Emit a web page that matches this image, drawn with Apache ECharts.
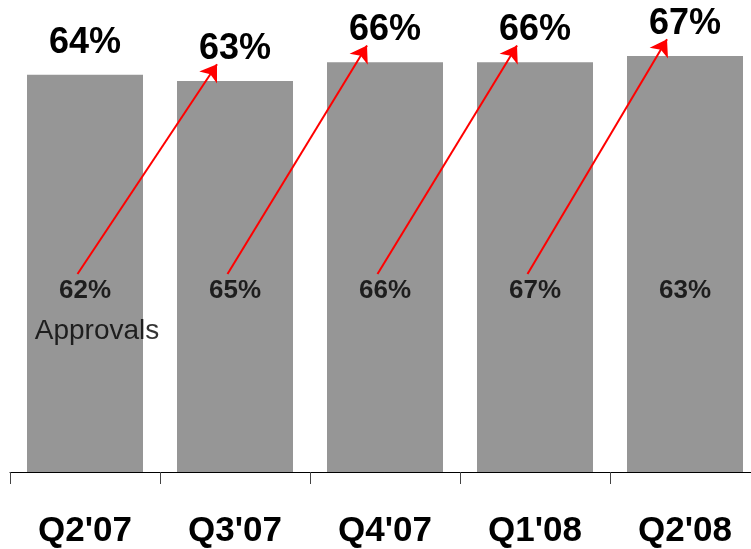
<!DOCTYPE html>
<html>
<head>
<meta charset="utf-8">
<script src="https://cdn.jsdelivr.net/npm/echarts@6/dist/echarts.min.js"></script>
<style>
  html, body { margin: 0; padding: 0; background: #ffffff; overflow: hidden; }
  #chart { width: 760px; height: 549px; }
</style>
</head>
<body>
<div id="chart"></div>
<script>
// Quarterly rates: bar height = headline rate, inner figure = approvals rate
const quarters = ["Q2'07", "Q3'07", "Q4'07", "Q1'08", "Q2'08"];
const headlineRates = [64, 63, 66, 66, 67];
const approvalRates = [62, 65, 66, 67, 63];
const approvalsCaption = 'Approvals';

const FONT = '"Liberation Sans", Arial, Helvetica, sans-serif';
const INNER_LEVEL = 29.2;     // value level where approval figures sit
const ARROW_START = 31.9;     // arrows leave just above the approval figure
const ARROW_RISE = 2.7;       // arrow tips stop just under the next headline

// Arrows run from each quarter's approvals figure to the next quarter's headline
const arrows = [];
for (let i = 0; i < quarters.length - 1; i++) {
  arrows.push({
    coords: [
      [i + 0.45, ARROW_START],
      [i + 1 + 0.38, headlineRates[i + 1] + ARROW_RISE]
    ]
  });
}

const chart = echarts.init(document.getElementById('chart'), null, { renderer: 'canvas' });
chart.setOption({
  animation: false,
  backgroundColor: '#ffffff',
  grid: { left: 10, top: 37.5, right: 0, bottom: 75, containLabel: false },
  xAxis: [
    {
      type: 'category',
      data: quarters,
      axisLine: { show: true, lineStyle: { color: '#000000', width: 1 } },
      axisTick: { show: true, length: 12, lineStyle: { color: '#444444', width: 1 } },
      axisLabel: {
        margin: 42,
        color: '#000000',
        fontFamily: FONT,
        fontWeight: 'bold',
        fontSize: 35
      },
      splitLine: { show: false }
    },
    {
      type: 'value',
      min: 0,
      max: quarters.length,
      show: false
    }
  ],
  yAxis: { type: 'value', min: 0, max: 70, show: false, splitLine: { show: false } },
  series: [
    {
      type: 'bar',
      data: headlineRates,
      barWidth: 116,
      itemStyle: { color: '#969696' },
      label: {
        show: true,
        position: 'top',
        distance: 14,
        formatter: '{c}%',
        color: '#000000',
        fontFamily: FONT,
        fontWeight: 'bold',
        fontSize: 36
      },
      z: 2
    },
    {
      type: 'scatter',
      data: approvalRates.map(v => ({ value: INNER_LEVEL, rate: v })),
      symbolSize: 0,
      label: {
        show: true,
        position: 'inside',
        formatter: p => p.data.rate + '%',
        color: '#000000',
        fontFamily: FONT,
        fontWeight: 'bold',
        fontSize: 26
      },
      z: 5
    },
    {
      type: 'scatter',
      data: [[quarters[0], 22.6]],
      symbolSize: 0,
      label: {
        show: true,
        position: 'inside',
        offset: [12, 0],
        formatter: approvalsCaption,
        color: '#000000',
        fontFamily: FONT,
        fontSize: 28
      },
      z: 5
    },
    {
      type: 'lines',
      coordinateSystem: 'cartesian2d',
      xAxisIndex: 1,
      yAxisIndex: 0,
      data: arrows,
      symbol: ['none', 'arrow'],
      symbolSize: [0, 16],
      lineStyle: { color: '#ff0000', width: 2, opacity: 1, curveness: 0 },
      z: 6
    }
  ]
});
</script>
</body>
</html>
